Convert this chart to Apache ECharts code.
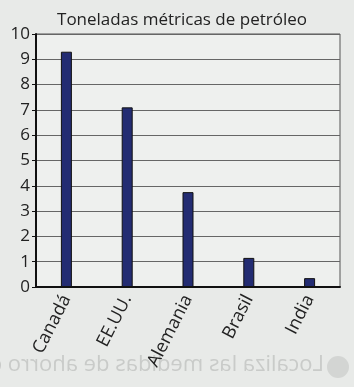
<!DOCTYPE html>
<html lang="es">
<head>
<meta charset="UTF-8">
<title>Toneladas métricas de petróleo</title>
<script src="https://cdn.jsdelivr.net/npm/echarts@6/dist/echarts.min.js"></script>
<style>
  html, body { margin: 0; padding: 0; background: #e8eae8; }
  #main { width: 354px; height: 387px; }
</style>
</head>
<body>
<div id="main"></div>
<script type="text/javascript">
    // datos
    var paises = ['Canadá', 'EE.UU.', 'Alemania', 'Brasil', 'India'];
    var toneladas = [9.3, 7.1, 3.75, 1.15, 0.35];
    var titulo = 'Toneladas métricas de petróleo';

    var myChart = echarts.init(document.getElementById('main'));

    var option = {
        animation: false,
        backgroundColor: '#e8eae8',
        textStyle: { fontFamily: 'Open Sans' },
        title: {
            text: titulo,
            left: 177,
            top: 7,
            textAlign: 'center',
            textStyle: { fontSize: 17, fontWeight: 'normal', color: '#222' }
        },
        // texto del reverso de la página (se ve en espejo)
        graphic: [{
            type: 'text',
            x: 324,
            y: 354,
            scaleX: -1,
            z: -1,
            style: { text: 'Localiza las medidas de ahorro c', fontSize: 22, fill: '#c9cbc9', fontFamily: 'Open Sans' }
        }, {
            type: 'circle',
            z: -1,
            shape: { cx: 338, cy: 367, r: 11 },
            style: { fill: '#d3d5d3' }
        }],
        grid: { left: 36, right: 14, top: 34, bottom: 100, show: true, borderColor: '#555', borderWidth: 1, backgroundColor: '#eef0ee' },
        xAxis: {
            type: 'category',
            data: paises,
            axisLine: { lineStyle: { color: '#111', width: 2 } },
            axisTick: { show: false },
            axisLabel: { rotate: 63, fontSize: 18, color: '#222', margin: 9 }
        },
        yAxis: {
            type: 'value',
            min: 0,
            max: 10,
            interval: 1,
            axisLine: { show: true, lineStyle: { color: '#111', width: 2 } },
            axisTick: { show: true, length: 4, lineStyle: { color: '#111' } },
            axisLabel: { fontSize: 17, color: '#222', margin: 6 },
            splitLine: { lineStyle: { color: '#666', width: 1 } }
        },
        series: [{
            type: 'bar',
            data: toneladas,
            barWidth: 11,
            itemStyle: { color: '#232c72', borderColor: '#111', borderWidth: 1 }
        }]
    };
    myChart.setOption(option);
</script>
</body>
</html>
